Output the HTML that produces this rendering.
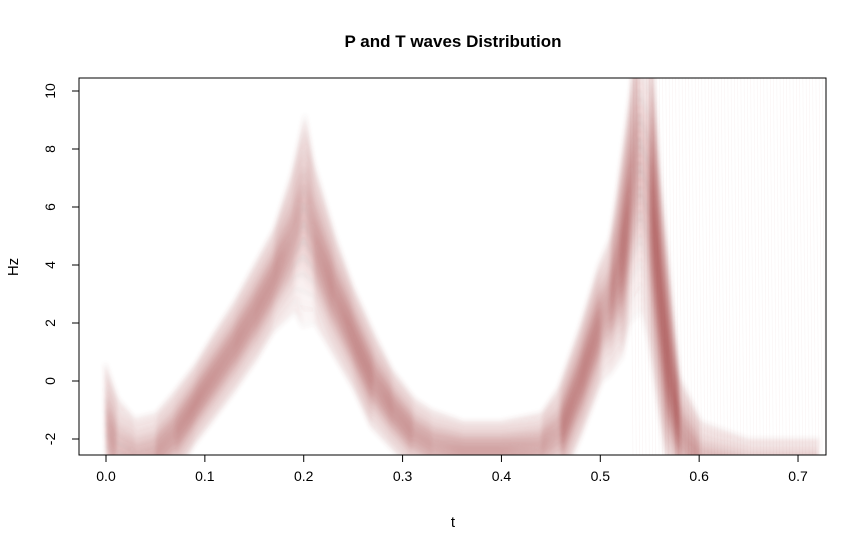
<!DOCTYPE html>
<html><head><meta charset="utf-8"><style>
body{margin:0;background:#fff;}
svg{display:block;font-family:"Liberation Sans",Arial,sans-serif;}
</style></head><body>
<svg id="chart" width="867" height="552">
<defs><clipPath id="clip"><rect x="79" y="78" width="747" height="377"/></clipPath>
<filter id="blur"><feGaussianBlur stdDeviation="1.8"/></filter></defs>
<text x="453" y="47" text-anchor="middle" font-size="17" font-weight="bold">P and T waves Distribution</text>
<g id="marks" clip-path="url(#clip)"></g>
<rect x="79" y="78" width="747" height="377" fill="none" stroke="#000"/>
<g id="axes"></g>
<text x="453" y="527" text-anchor="middle" font-size="15">t</text>
<text x="18" y="267" text-anchor="middle" font-size="15" transform="rotate(-90 18 267)">Hz</text>
</svg>
<script>
const xTicks=[0,0.1,0.2,0.3,0.4,0.5,0.6,0.7];
const xTickLabels=["0.0","0.1","0.2","0.3","0.4","0.5","0.6","0.7"];
const yTicks=[-2,0,2,4,6,8,10];
const tValues=[0,0.01,0.03,0.05,0.07,0.09,0.11,0.13,0.15,0.17,0.19,0.2,0.21,0.23,0.25,0.27,0.29,0.31,0.33,0.36,0.4,0.44,0.46,0.48,0.5,0.51,0.52,0.53,0.54,0.55,0.56,0.57,0.58,0.6,0.65,0.72];
const hzMean=[-1.8,-2.4,-2.7,-2.5,-1.8,-0.8,0.2,1.2,2.3,3.5,4.8,5.5,4.8,3,1.5,0,-1,-1.8,-2.2,-2.4,-2.4,-2.3,-1.8,0,2,2.6,3.8,6,7.5,6.5,3,0,-1.8,-2.8,-3.2,-3.2];
const hzSpread=[1.2,0.9,0.7,0.7,0.7,0.7,0.7,0.8,0.8,0.9,1.2,1.8,1.4,1,0.9,0.8,0.7,0.6,0.6,0.5,0.5,0.6,0.8,1,1,1.2,1.5,2,2.5,2.5,2.2,1.5,1,0.7,0.6,0.6];
const sx=t=>106+t*988.6, sy=v=>439-(v+2)*29;
const NS="http://www.w3.org/2000/svg";
const marks=document.getElementById('marks');
for(let i=0;i<60;i++){const l=document.createElementNS(NS,'line');
 const x=sx(0.53+i*0.0033);
 l.setAttribute('x1',x);l.setAttribute('x2',x+3);l.setAttribute('y1',78);l.setAttribute('y2',455);
 l.setAttribute('stroke','#c09090');l.setAttribute('stroke-opacity','0.1');l.setAttribute('stroke-width','0.6');
 
 
 marks.appendChild(l);}
const g=document.createElementNS(NS,'g');g.setAttribute('filter','url(#blur)');marks.appendChild(g);
const N=18;
for(let k=-N;k<=N;k++){
 const f=k/N;
 let d='';
 tValues.forEach((t,i)=>{const v=hzMean[i]+f*hzSpread[i]*2;const x=sx(t)+f*4*(i%2?1:-1)*0.3;d+=(i?'L':'M')+x.toFixed(1)+','+sy(v).toFixed(1);});
 const p=document.createElementNS(NS,'path');
 p.setAttribute('d',d);p.setAttribute('fill','none');
 const w=Math.exp(-f*f*3);
 p.setAttribute('stroke',k%3===0?'#7a3a3a':'#b84a4a');
 p.setAttribute('stroke-opacity',(0.04+0.16*w).toFixed(3));
 p.setAttribute('stroke-width','5');
 p.setAttribute('stroke-linejoin','round');
 
 
 g.appendChild(p);
}
const axes=document.getElementById('axes');
xTicks.forEach((t,i)=>{const x=sx(t);
 const l=document.createElementNS(NS,'line');l.setAttribute('x1',x);l.setAttribute('x2',x);l.setAttribute('y1',455);l.setAttribute('y2',462);l.setAttribute('stroke','#000');
 
 
 axes.appendChild(l);
 const tx=document.createElementNS(NS,'text');tx.setAttribute('x',x);tx.setAttribute('y',481);tx.setAttribute('text-anchor','middle');tx.setAttribute('font-size','14');tx.textContent=xTickLabels[i];
 
 
 axes.appendChild(tx);});
const bl=document.createElementNS(NS,'line');bl.setAttribute('x1',sx(0));bl.setAttribute('x2',sx(0.7));bl.setAttribute('y1',455);bl.setAttribute('y2',455);bl.setAttribute('stroke','#000');axes.appendChild(bl);
yTicks.forEach(v=>{const y=sy(v);
 const l=document.createElementNS(NS,'line');l.setAttribute('x1',72);l.setAttribute('x2',79);l.setAttribute('y1',y);l.setAttribute('y2',y);l.setAttribute('stroke','#000');
 
 
 axes.appendChild(l);
 const tx=document.createElementNS(NS,'text');tx.setAttribute('x',0);tx.setAttribute('y',0);tx.setAttribute('text-anchor','middle');tx.setAttribute('font-size','14');
 tx.setAttribute('transform','translate(55 '+y+') rotate(-90)');tx.textContent=v;
 
 
 axes.appendChild(tx);});
</script>
</body></html>
